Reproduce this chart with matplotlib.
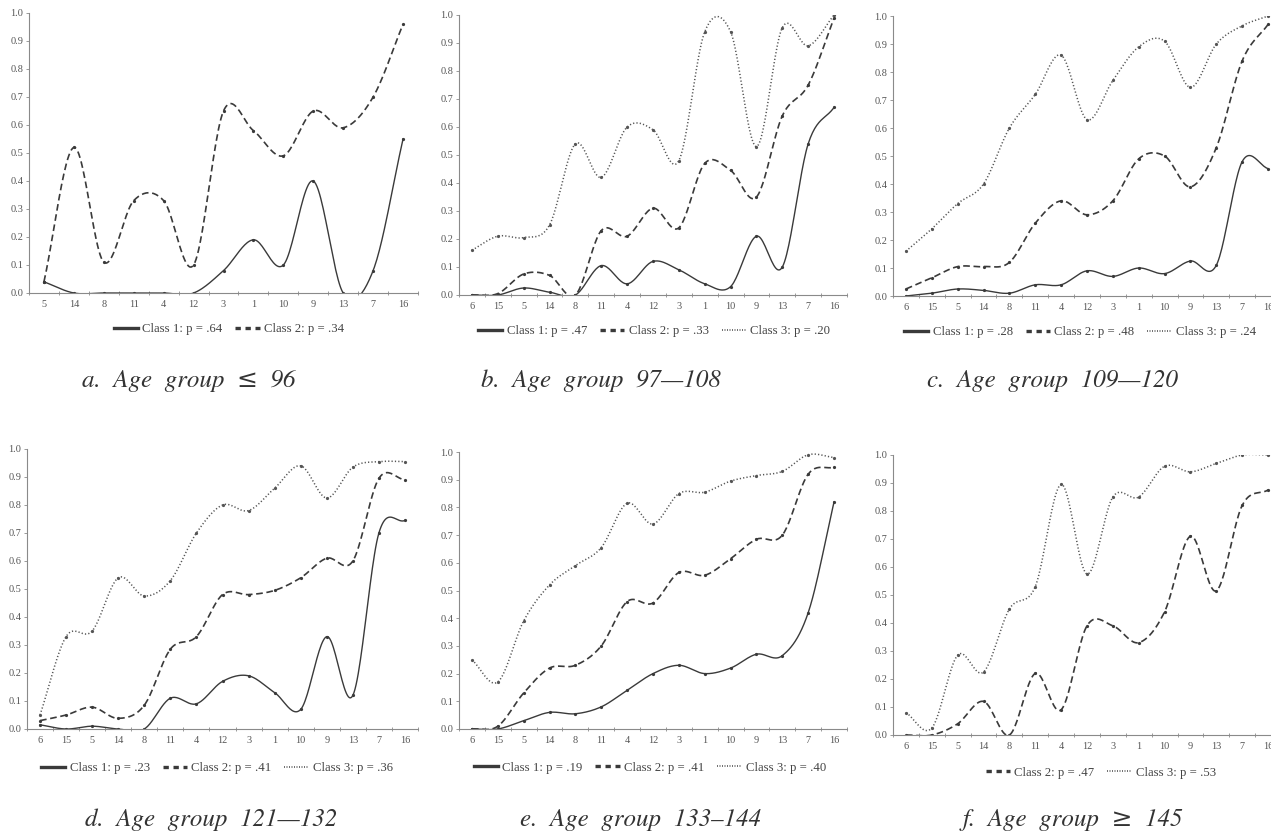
import numpy as np
import matplotlib
matplotlib.use("Agg")
import matplotlib.pyplot as plt
from matplotlib.lines import Line2D

# ── data ─────────────────────────────────────────────────────────────────────
ORDER_A = ["5", "14", "8", "11", "4", "12", "3", "1", "10", "9", "13", "7", "16"]
ORDER = ["6", "15", "5", "14", "8", "11", "4", "12", "3", "1", "10", "9", "13", "7", "16"]

A_C1 = [0.04, 0.00, 0.00, 0.00, 0.00, 0.00, 0.08, 0.19, 0.10, 0.40, 0.00, 0.08, 0.55]
A_C2 = [0.04, 0.52, 0.11, 0.33, 0.33, 0.10, 0.65, 0.58, 0.49, 0.65, 0.59, 0.70, 0.96]

B_C1 = [0.00, 0.00, 0.025, 0.01, 0.00, 0.105, 0.04, 0.12, 0.09, 0.04, 0.03, 0.21, 0.10, 0.54, 0.67]
B_C2 = [0.00, 0.005, 0.075, 0.07, 0.00, 0.23, 0.21, 0.31, 0.24, 0.47, 0.445, 0.35, 0.64, 0.75, 0.99]
B_C3 = [0.16, 0.21, 0.205, 0.25, 0.54, 0.42, 0.60, 0.59, 0.48, 0.94, 0.94, 0.53, 0.955, 0.89, 1.00]

C_C1 = [0.00, 0.01, 0.025, 0.02, 0.01, 0.04, 0.04, 0.09, 0.07, 0.10, 0.08, 0.125, 0.11, 0.48, 0.455]
C_C2 = [0.025, 0.065, 0.105, 0.105, 0.12, 0.26, 0.34, 0.29, 0.34, 0.49, 0.50, 0.39, 0.53, 0.84, 0.97]
C_C3 = [0.16, 0.24, 0.33, 0.40, 0.60, 0.72, 0.86, 0.63, 0.77, 0.89, 0.91, 0.745, 0.90, 0.965, 1.00]

D_C1 = [0.015, 0.00, 0.01, 0.00, 0.00, 0.11, 0.09, 0.17, 0.19, 0.13, 0.07, 0.33, 0.12, 0.70, 0.745]
D_C2 = [0.03, 0.05, 0.078, 0.038, 0.085, 0.285, 0.33, 0.48, 0.48, 0.495, 0.54, 0.61, 0.60, 0.895, 0.89]
D_C3 = [0.05, 0.33, 0.35, 0.54, 0.475, 0.53, 0.70, 0.80, 0.78, 0.86, 0.94, 0.825, 0.935, 0.955, 0.955]

E_C1 = [0.00, 0.00, 0.03, 0.06, 0.055, 0.08, 0.14, 0.20, 0.23, 0.20, 0.22, 0.27, 0.265, 0.42, 0.82]
E_C2 = [0.00, 0.01, 0.13, 0.22, 0.23, 0.30, 0.46, 0.455, 0.565, 0.555, 0.615, 0.685, 0.70, 0.92, 0.945]
E_C3 = [0.25, 0.17, 0.39, 0.52, 0.59, 0.655, 0.815, 0.74, 0.85, 0.855, 0.895, 0.915, 0.93, 0.99, 0.98]

F_C2 = [0.00, 0.00, 0.04, 0.12, 0.00, 0.22, 0.09, 0.39, 0.39, 0.33, 0.44, 0.71, 0.515, 0.82, 0.875]
F_C3 = [0.08, 0.025, 0.285, 0.225, 0.45, 0.53, 0.895, 0.575, 0.85, 0.85, 0.96, 0.94, 0.97, 1.00, 1.00]

LABELS_A = ["Class 1: p = .64", "Class 2: p = .34"]
LABELS_B = ["Class 1: p = .47", "Class 2: p = .33", "Class 3: p = .20"]
LABELS_C = ["Class 1: p = .28", "Class 2: p = .48", "Class 3: p = .24"]
LABELS_D = ["Class 1: p = .23", "Class 2: p = .41", "Class 3: p = .36"]
LABELS_E = ["Class 1: p = .19", "Class 2: p = .41", "Class 3: p = .40"]
LABELS_F = ["Class 2: p = .47", "Class 3: p = .53"]

TITLES = ["a.  Age  group  ≤  96", "b.  Age  group  97—108", "c.  Age  group  109—120",
          "d.  Age  group  121—132", "e.  Age  group  133–144", "f.  Age  group  ≥  145"]

# ── style ────────────────────────────────────────────────────────────────────
W, H = 1271, 840
INK = "#3a3a3a"
AXC = "#8a8a8a"
TXT = "#555555"
SERIF = ["Liberation Serif", "DejaVu Serif"]
CAPTION = ["STIXGeneral", "DejaVu Serif"]

STYLES = {
    1: dict(ls="-", lw=1.0, color=INK),
    2: dict(ls=(0, (4.0, 2.2)), lw=1.2, color=INK),
    3: dict(ls=(0, (0.8, 1.4)), lw=1.1, color="#555555"),
}
LEG_STYLES = {
    1: dict(ls="-", lw=2.4, color=INK),
    2: dict(ls=(0, (1.6, 1.4)), lw=2.4, color=INK),
    3: dict(ls=(0, (0.6, 0.9)), lw=1.2, color="#555555"),
}


def smooth(y, n=24):
    """Catmull-Rom smoothing like a spreadsheet 'smoothed line'."""
    y = np.asarray(y, float)
    x = np.arange(len(y), dtype=float)
    p = np.concatenate([[2 * y[0] - y[1]], y, [2 * y[-1] - y[-2]]])
    xs, ys = [], []
    t = np.linspace(0, 1, n, endpoint=False)
    for i in range(len(y) - 1):
        p0, p1, p2, p3 = p[i], p[i + 1], p[i + 2], p[i + 3]
        seg = 0.5 * ((2 * p1) + (-p0 + p2) * t
                     + (2 * p0 - 5 * p1 + 4 * p2 - p3) * t ** 2
                     + (-p0 + 3 * p1 - 3 * p2 + p3) * t ** 3)
        xs.append(x[i] + t)
        ys.append(seg)
    xs.append([x[-1]])
    ys.append([y[-1]])
    return np.concatenate(xs), np.concatenate(ys)


def px_axes(x0, x1, ytop, ybot):
    return fig.add_axes([x0 / W, 1 - ybot / H, (x1 - x0) / W, (ybot - ytop) / H])


def panel(ax, order, series, labels, leg_x, leg_y):
    n = len(order)
    for cls, vals in series:
        xs, ys = smooth(vals)
        ax.plot(xs, ys, **STYLES[cls], clip_on=True)
        ax.plot(range(n), vals, ls="none", marker="o", ms=1.3,
                color=STYLES[cls]["color"], clip_on=True)
    ax.set_xlim(-0.5, n - 0.5)
    ax.set_ylim(0, 1)
    for s in ("top", "right"):
        ax.spines[s].set_visible(False)
    for s in ("left", "bottom"):
        ax.spines[s].set_color(AXC)
        ax.spines[s].set_linewidth(0.8)
    ax.set_yticks(np.arange(0, 1.01, 0.1))
    ax.set_yticklabels([f"{v:.1f}" for v in np.arange(0, 1.01, 0.1)])
    ax.set_xticks(range(n))
    ax.set_xticklabels(order)
    ax.set_xticks(np.arange(-0.5, n), minor=True)
    ax.tick_params(axis="y", direction="out", length=2.5, width=0.6, color=AXC,
                   pad=1.5, labelsize=7.4, labelcolor=TXT)
    ax.tick_params(axis="x", which="major", length=0, pad=5,
                   labelsize=7.4, labelcolor=TXT)
    ax.tick_params(axis="x", which="minor", direction="inout", length=3,
                   width=0.6, color=AXC)
    for lab in ax.get_xticklabels() + ax.get_yticklabels():
        lab.set_family(SERIF)
    handles = [Line2D([], [], **LEG_STYLES[cls]) for cls, _ in series]
    ax.legend(handles, labels, loc="center", bbox_to_anchor=(leg_x, leg_y),
              ncol=len(handles), frameon=False, handlelength=1.9,
              handletextpad=0.35, columnspacing=1.0,
              prop=dict(family=SERIF, size=9.2), labelcolor="#444444")


fig = plt.figure(figsize=(W / 100, H / 100), dpi=100, facecolor="white")

ax_a = px_axes(29, 418, 13, 293)
ax_b = px_axes(459, 847, 15, 295)
ax_c = px_axes(893, 1281, 16, 296)
ax_d = px_axes(27, 418, 449, 729)
ax_e = px_axes(459, 847, 452, 729)
ax_f = px_axes(893, 1281, 455, 735)

panel(ax_a, ORDER_A, [(1, A_C1), (2, A_C2)], LABELS_A, 0.514, -0.13)
panel(ax_b, ORDER, [(1, B_C1), (2, B_C2), (3, B_C3)], LABELS_B, 0.503, -0.13)
panel(ax_c, ORDER, [(1, C_C1), (2, C_C2), (3, C_C3)], LABELS_C, 0.482, -0.13)
panel(ax_d, ORDER, [(1, D_C1), (2, D_C2), (3, D_C3)], LABELS_D, 0.486, -0.14)
panel(ax_e, ORDER, [(1, E_C1), (2, E_C2), (3, E_C3)], LABELS_E, 0.492, -0.14)
panel(ax_f, ORDER, [(2, F_C2), (3, F_C3)], LABELS_F, 0.536, -0.135)

# captions under each panel
for (cx, cy), title in zip([(189, 381), (601, 381), (1052, 381),
                            (211, 820), (641, 820), (1073, 820)], TITLES):
    fig.text(cx / W, 1 - cy / H, title, ha="center", va="center",
             family=CAPTION, style="italic", size=18, color="#333333")

fig.savefig("out.png", dpi=100, facecolor="white")
